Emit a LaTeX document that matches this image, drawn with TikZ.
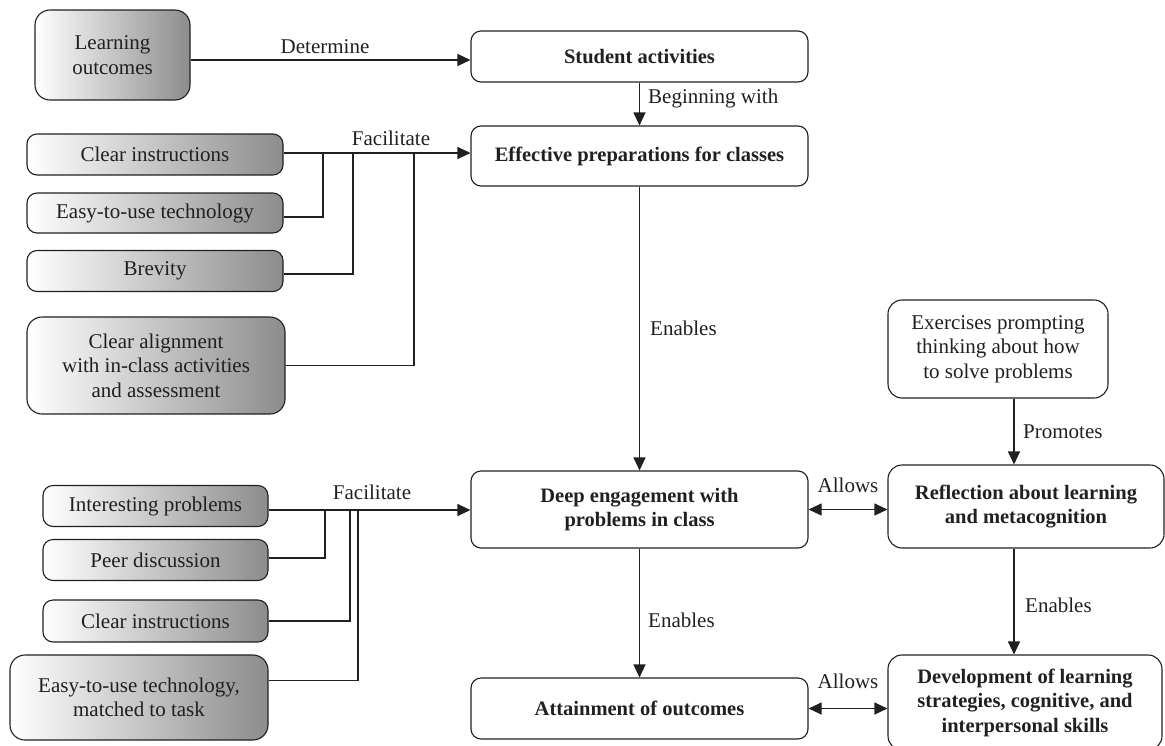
\documentclass[tikz,border=0pt]{standalone}
\usepackage{fontspec}
\setmainfont{Liberation Serif}
\usetikzlibrary{arrows.meta,calc}
\definecolor{ink}{HTML}{231F20}
\begin{document}
\begin{tikzpicture}[x=1pt,y=-1pt,
  font=\fontsize{21}{24.5}\selectfont, text=ink,
  box/.style={draw=ink, line width=1.1pt, rounded corners=10pt, align=center, inner sep=2pt},
  mainbox/.style={box, font=\fontsize{20.5}{24.5}\selectfont\bfseries},
  gbox/.style={box, left color=white, right color=black!45, shading angle=90},
  lbl/.style={inner sep=0pt, anchor=base, font=\fontsize{21}{24}\selectfont},
  con/.style={draw=ink, line width=1.1pt},
  arr/.style={con, -{Triangle[length=13pt,width=12pt]}},
  darr/.style={con, {Triangle[length=13pt,width=12pt]}-{Triangle[length=13pt,width=12pt]}}
]
\useasboundingbox (0,0) rectangle (1165,745);
% main column
\node[mainbox, minimum width=337pt, minimum height=51pt] (sa) at (639.5,56.5) {Student activities};
\node[mainbox, minimum width=337pt, minimum height=60pt] (ep) at (639.5,156) {Effective preparations for classes};
\node[mainbox, minimum width=337pt, minimum height=77pt] (de) at (639.5,509.5) {Deep engagement with\\problems in class};
\node[mainbox, minimum width=337pt, minimum height=61pt] (at) at (639.5,708.5) {Attainment of outcomes};
% right column
\node[box, minimum width=220pt, minimum height=98pt, rounded corners=14pt] (ex) at (998,349) {Exercises prompting\\thinking about how\\to solve problems};
\node[mainbox, minimum width=276pt, minimum height=83pt, rounded corners=14pt] (rf) at (1026,506.5) {Reflection about learning\\and metacognition};
\node[mainbox, minimum width=274pt, minimum height=95pt, rounded corners=14pt] (dv) at (1025,702.5) {Development of learning\\strategies, cognitive, and\\interpersonal skills};
% left top
\node[gbox, minimum width=155pt, minimum height=90pt, rounded corners=15pt] (lo) at (112.5,55) {Learning\\outcomes};
\node[gbox, minimum width=256pt, minimum height=41pt] (ci1) at (155,154.5) {Clear instructions};
\node[gbox, minimum width=256pt, minimum height=40pt] (et1) at (155,213) {Easy-to-use technology};
\node[gbox, minimum width=256pt, minimum height=41pt] (br) at (155,271) {Brevity};
\node[gbox, minimum width=258pt, minimum height=97pt, rounded corners=15pt] (ca) at (156,365.5) {Clear alignment\\with in-class activities\\and assessment};
% left bottom
\node[gbox, minimum width=225pt, minimum height=41pt] (ip) at (155.5,506) {Interesting problems};
\node[gbox, minimum width=225pt, minimum height=41pt] (pd) at (155.5,560) {Peer discussion};
\node[gbox, minimum width=225pt, minimum height=42pt] (ci2) at (155.5,621) {Clear instructions};
\node[gbox, minimum width=258pt, minimum height=85pt, rounded corners=15pt] (etm) at (139,697.5) {Easy-to-use technology,\\matched to task};
% junctions
\coordinate (j1) at (323,153);
\coordinate (j2) at (353,153);
\coordinate (j3) at (414,153);
\coordinate (k1) at (325,510);
\coordinate (k2) at (350,510);
\coordinate (k3) at (358,510);
% connectors
\draw[arr] ([yshift=-5pt]lo.east) -- ([yshift=-5pt]lo.east -| sa.west);
\draw[arr] (sa.south) -- (ep.north);
\draw[arr] (ci1.east |- j1) -- (j1 -| ep.west);
\draw[con] ([yshift=-4pt]et1.east) -| (j1);
\draw[con] ([yshift=-3pt]br.east) -| (j2);
\draw[con] (ca.east) -| (j3);
\draw[arr] (ep.south) -- (de.north);
\draw[arr] (ip.east |- k1) -- (k1 -| de.west);
\draw[con] ([yshift=2pt]pd.east) -| (k1);
\draw[con] (ci2.east) -| (k2);
\draw[con] ([yshift=17pt]etm.east) -| (k3);
\draw[arr] (de.south) -- (at.north);
\draw[darr] (de.east) -- (de.east -| rf.west);
\draw[darr] (at.east) -- (at.east -| dv.west);
\draw[arr] ([xshift=16pt]ex.south) -- ([xshift=16pt]ex.south |- rf.north);
\draw[arr] ([xshift=-12pt]rf.south) -- ([xshift=-12pt]rf.south |- dv.north);
% labels
\node[lbl] (l1) at (325,53) {Determine};
\node[lbl, anchor=base west] (l2) at (648,103) {Beginning with};
\node[lbl] (l3) at (391,145) {Facilitate};
\node[lbl, anchor=base west] (l4) at (650,335) {Enables};
\node[lbl] (l5) at (372,499) {Facilitate};
\node[lbl, anchor=base west] (l6) at (648,627) {Enables};
\node[lbl] (l7) at (848,492) {Allows};
\node[lbl] (l8) at (848,688) {Allows};
\node[lbl, anchor=base west] (l9) at (1023,438) {Promotes};
\node[lbl, anchor=base west] (l10) at (1025,612) {Enables};
\end{tikzpicture}
\end{document}
